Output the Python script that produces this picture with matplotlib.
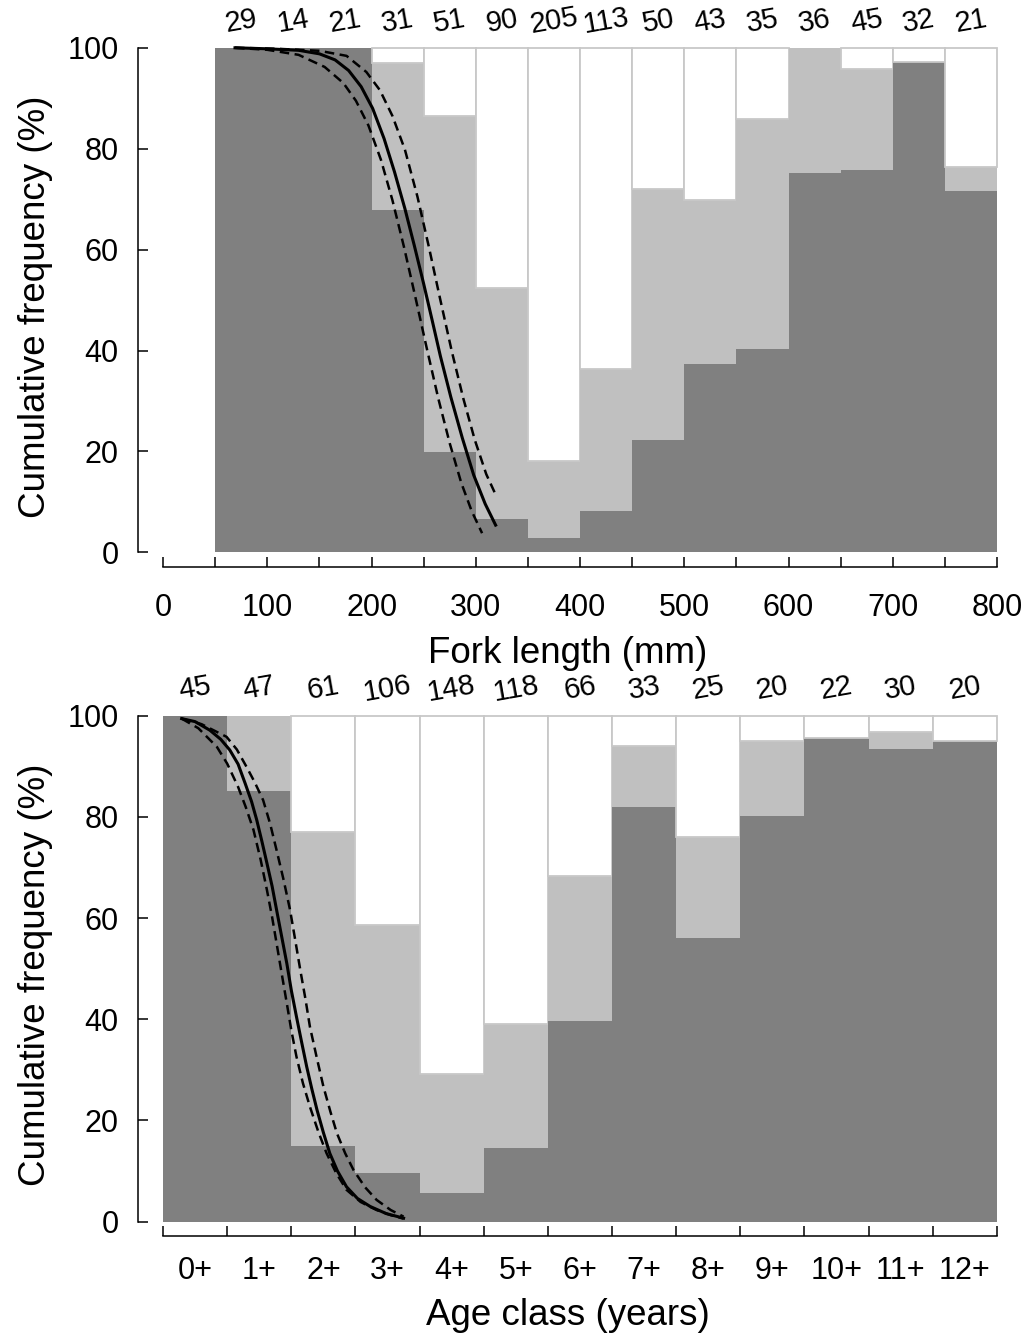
import matplotlib
matplotlib.use("Agg")
import matplotlib.pyplot as plt
from matplotlib import font_manager

# ---------------- data ----------------
# Top panel: fork length bins (lower bound, mm), width 50
len_bins = [50, 100, 150, 200, 250, 300, 350, 400, 450, 500, 550, 600, 650, 700, 750]
len_n = [29, 14, 21, 31, 51, 90, 205, 113, 50, 43, 35, 36, 45, 32, 21]
len_dark = [100, 100, 100, 67.9, 19.8, 6.6, 2.9, 8.1, 22.2, 37.3, 40.3, 75.2, 75.7, 97.1, 71.6]
len_light_cum = [100, 100, 100, 96.9, 86.4, 52.4, 18.1, 36.3, 72.1, 69.9, 85.9, 100, 95.8, 97.1, 76.3]

len_fit_x = [69, 100, 130, 150, 165, 178, 190, 201, 212, 222, 232, 241, 250, 258, 266, 276, 287, 298, 309, 319]
len_fit_y = [100, 99.8, 99.5, 98.8, 97.6, 95.5, 92.3, 88.0, 82.0, 75.4, 68.1, 60.8, 53.2, 46.1, 38.9, 30.8, 22.7, 15.3, 9.6, 5.4]
len_up_x = [69, 110, 150, 176, 195, 208, 220, 232, 244, 255, 266, 277, 288, 299, 310, 320]
len_up_y = [100, 99.8, 99.4, 98.4, 95.2, 91.6, 86.5, 79.8, 70.5, 60.5, 50.0, 39.8, 30.5, 22.3, 15.5, 11.0]
len_lo_x = [69, 100, 130, 155, 173, 185, 197, 209, 220, 231, 242, 253, 264, 275, 286, 296, 306]
len_lo_y = [100, 99.6, 98.6, 96.2, 93.0, 89.5, 84.6, 77.8, 69.8, 60.6, 50.6, 40.4, 30.5, 21.6, 13.8, 8.2, 3.8]

# Bottom panel: age classes
age_labels = ["0+", "1+", "2+", "3+", "4+", "5+", "6+", "7+", "8+", "9+", "10+", "11+", "12+"]
age_n = [45, 47, 61, 106, 148, 118, 66, 33, 25, 20, 22, 30, 20]
age_dark = [100, 85.1, 15.0, 9.7, 5.7, 14.5, 39.6, 81.9, 56.1, 80.1, 95.5, 93.4, 95.0]
age_light_cum = [100, 100, 77.0, 58.6, 29.2, 39.0, 68.3, 93.9, 76.1, 95.0, 95.5, 96.7, 95.0]

age_fit_x = [0.29, 0.50, 0.73, 0.90, 1.04, 1.17, 1.28, 1.38, 1.46, 1.54, 1.62, 1.70, 1.77, 1.85,
             1.93, 2.00, 2.08, 2.16, 2.24, 2.32, 2.40, 2.50, 2.60, 2.72, 2.86, 3.03, 3.23, 3.48, 3.75]
age_fit_y = [99.4, 98.8, 97.1, 95.3, 93.2, 90.4, 86.6, 83.0, 79.4, 75.2, 70.8, 66.3, 61.6, 56.3,
             51.0, 45.7, 40.5, 35.5, 30.6, 26.2, 22.1, 17.6, 13.5, 10.0, 6.9, 4.6, 3.0, 1.6, 0.7]
age_up_x = [0.29, 0.60, 0.99, 1.15, 1.30, 1.43, 1.56, 1.67, 1.77, 1.88, 1.98, 2.06, 2.14, 2.22,
            2.29, 2.40, 2.50, 2.61, 2.71, 2.84, 2.97, 3.15, 3.33, 3.55, 3.75]
age_up_y = [99.4, 98.3, 95.8, 93.3, 89.9, 86.8, 83.3, 78.6, 73.4, 67.5, 61.6, 55.7, 49.7, 44.0,
            38.5, 32.2, 26.7, 21.7, 17.5, 13.5, 10.2, 6.8, 4.3, 2.3, 1.0]
age_lo_x = [0.29, 0.55, 0.84, 1.00, 1.17, 1.29, 1.41, 1.52, 1.62, 1.70, 1.77, 1.85, 1.93, 2.00,
            2.08, 2.18, 2.29, 2.42, 2.55, 2.70, 2.86, 3.08, 3.33, 3.55, 3.75]
age_lo_y = [99.4, 97.5, 93.8, 90.5, 85.9, 81.9, 77.4, 71.6, 65.5, 60.2, 55.0, 49.0, 43.1, 37.8,
            32.6, 27.4, 22.7, 17.8, 13.5, 9.6, 6.3, 3.9, 2.3, 1.3, 0.6]

yticks = [0, 20, 40, 60, 80, 100]

# ---------------- style ----------------
DARK = "#808080"
LIGHT = "#c0c0c0"
EDGE = "#c8c8c8"
FONT = "Liberation Sans"
plt.rcParams["font.family"] = [FONT, "DejaVu Sans"]
names = {f.name for f in font_manager.fontManager.ttflist}
count_font = "Liberation Sans Narrow" if "Liberation Sans Narrow" in names else FONT

fig = plt.figure(figsize=(10.31, 13.42), dpi=100)
ax1 = fig.add_axes([0.1339, 0.5775, 0.8342, 0.3884])
ax2 = fig.add_axes([0.1339, 0.0789, 0.8342, 0.3894])


def stacked(ax, lefts, width, dark, light_cum):
    for x, d, l in zip(lefts, dark, light_cum):
        ax.bar(x, d, width=width, bottom=0, align="edge", color=DARK, edgecolor="none", zorder=1)
        if l - d > 0:
            ax.bar(x, l - d, width=width, bottom=d, align="edge", color=LIGHT, edgecolor="none", zorder=1)
        if 100 - l > 0:
            ax.bar(x, 100 - l, width=width, bottom=l, align="edge", color="white",
                   edgecolor=EDGE, linewidth=1.3, zorder=1)


def curves(ax, fx, fy, ux, uy, lx, ly):
    ax.plot(fx, fy, color="black", lw=2.2, zorder=3, solid_joinstyle="round")
    for xx, yy in ((ux, uy), (lx, ly)):
        ax.plot(xx, yy, color="black", lw=1.8, linestyle=(0, (3.8, 2.2)), zorder=3)


def style_axes(ax, xlo, xhi, ylo):
    ax.set_xlim(xlo, xhi)
    ax.set_ylim(ylo, 100.4)
    for s in ("top", "right"):
        ax.spines[s].set_visible(False)
    ax.spines["left"].set_bounds(0, 100)
    ax.spines["left"].set_linewidth(1.1)
    ax.spines["bottom"].set_linewidth(1.1)
    ax.set_yticks(yticks)
    ax.set_yticklabels([str(v) for v in yticks])
    ax.tick_params(axis="y", direction="in", length=7, width=1.1, pad=14, labelsize=22)
    ax.set_ylabel("Cumulative frequency (%)", fontsize=26.5, labelpad=10)


# ---- top panel ----
stacked(ax1, len_bins, 50, len_dark, len_light_cum)
curves(ax1, len_fit_x, len_fit_y, len_up_x, len_up_y, len_lo_x, len_lo_y)
style_axes(ax1, -24, 801, -2.9)
ax1.spines["bottom"].set_bounds(0, 800)
xt = list(range(0, 801, 50))
ax1.set_xticks(xt)
ax1.set_xticklabels([str(v) if v % 100 == 0 else "" for v in xt])
ax1.tick_params(axis="x", direction="in", length=7, width=1.1, pad=19, labelsize=22)
ax1.set_xlabel("Fork length (mm)", fontsize=26.5, labelpad=9)
for x, n in zip(len_bins, len_n):
    ax1.text(x + 25, 105.3, str(n), ha="center", va="center", fontsize=21, rotation=10,
             family=[count_font, "DejaVu Sans"], clip_on=False)

# ---- bottom panel ----
age_lefts = list(range(len(age_labels)))
stacked(ax2, age_lefts, 1, age_dark, age_light_cum)
curves(ax2, age_fit_x, age_fit_y, age_up_x, age_up_y, age_lo_x, age_lo_y)
style_axes(ax2, -0.39, 13.02, -2.85)
ax2.spines["bottom"].set_bounds(0, len(age_labels))
ax2.set_xticks(list(range(len(age_labels) + 1)))
ax2.set_xticklabels([""] * (len(age_labels) + 1))
ax2.set_xticks([i + 0.5 for i in age_lefts], minor=True)
ax2.set_xticklabels(age_labels, minor=True)
ax2.tick_params(axis="x", which="major", direction="in", length=7, width=1.1)
ax2.tick_params(axis="x", which="minor", length=0, pad=14, labelsize=22)
ax2.set_xlabel("Age class (years)", fontsize=26.5, labelpad=9)
for x, n in zip(age_lefts, age_n):
    ax2.text(x + 0.5, 105.3, str(n), ha="center", va="center", fontsize=21, rotation=10,
             family=[count_font, "DejaVu Sans"], clip_on=False)

fig.savefig("out.png", dpi=100)
